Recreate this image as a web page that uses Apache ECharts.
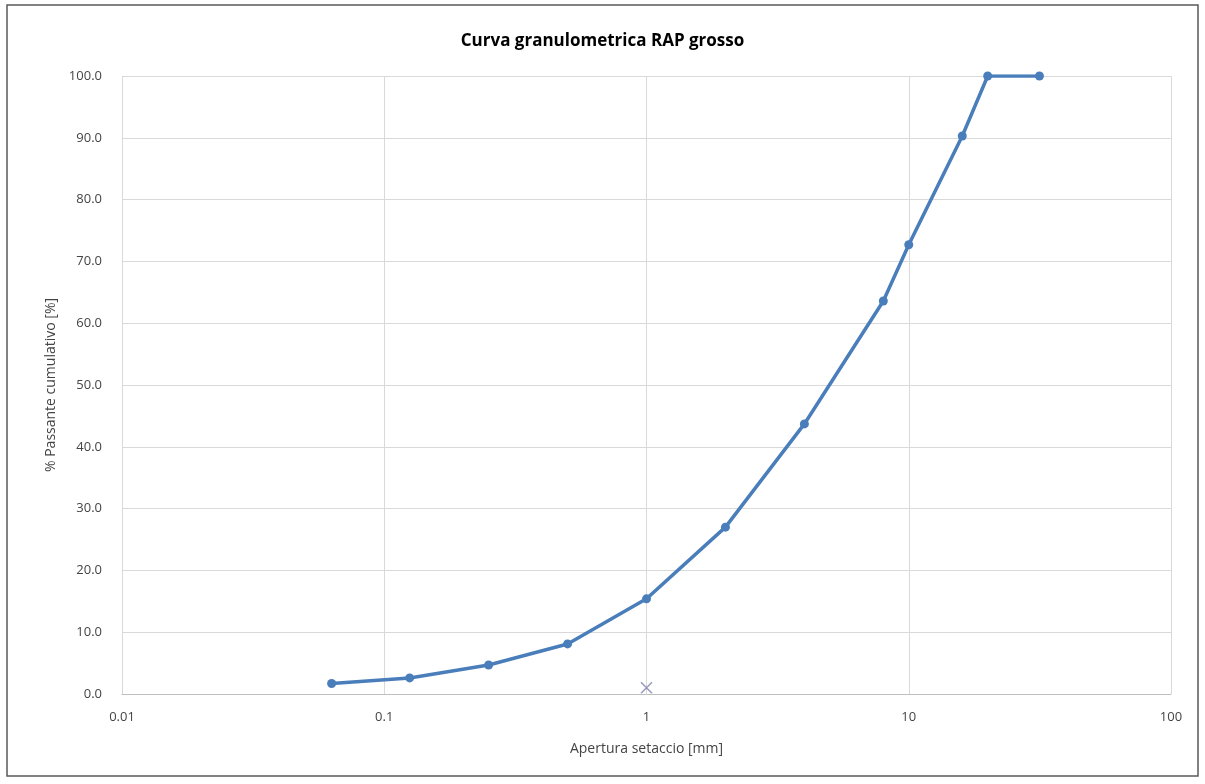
<!DOCTYPE html>
<html><head><meta charset="utf-8">
<script src="https://cdn.jsdelivr.net/npm/echarts@6/dist/echarts.min.js"></script>
<style>html,body{margin:0;padding:0;background:#fff}#c{width:1205px;height:784px}</style>
</head><body><div id="c"></div>
<script>
const sieveSizes = [0.063, 0.125, 0.25, 0.5, 1, 2, 4, 8, 10, 16, 20, 31.5];
const passing = [1.7, 2.6, 4.7, 8.1, 15.4, 27.0, 43.7, 63.6, 72.7, 90.3, 100.0, 100.0];
const markerX = [1];
const markerY = [1.0];
const titleText = 'Curva granulometrica RAP grosso';
const xName = 'Apertura setaccio [mm]';
const yName = '% Passante cumulativo [%]';

const chart = echarts.init(document.getElementById('c'));
chart.setOption({
  animation: false,
  backgroundColor: '#fff',
  graphic: [{type:'rect', shape:{x:7,y:5,width:1191,height:771}, style:{fill:'none', stroke:'#5a5a5a', lineWidth:1.5}, silent:true}],
  title: {text: titleText, left: 'center', top: 28, textStyle:{fontFamily:'Open Sans', fontWeight:'bold', fontSize:17, color:'#000'}},
  grid: {left:122, right:34, top:76, bottom:90},
  xAxis: {type:'log', logBase:10, min:0.01, max:100,
    name:xName, nameLocation:'middle', nameGap:48,
    nameTextStyle:{fontFamily:'Open Sans', fontSize:14, color:'#444'},
    axisLine:{show:true, lineStyle:{color:'#bfbfbf'}}, axisTick:{show:false},
    axisLabel:{fontFamily:'Open Sans', fontSize:13, color:'#444', margin:17, formatter:v=>String(+v.toPrecision(3))},
    splitLine:{show:true, lineStyle:{color:'#d9d9d9'}}, minorTick:{show:false}},
  yAxis: {type:'value', min:0, max:100, interval:10,
    name:yName, nameLocation:'middle', nameGap:62,
    nameTextStyle:{fontFamily:'Open Sans', fontSize:14, color:'#444'},
    axisLine:{show:false}, axisTick:{show:false},
    axisLabel:{fontFamily:'Open Sans', fontSize:13, color:'#444', margin:20, formatter:v=>v.toFixed(1)},
    splitLine:{show:true, lineStyle:{color:'#d9d9d9'}}},
  series: [
    {type:'line', data: sieveSizes.map((x,i)=>[x, passing[i]]), symbol:'circle', symbolSize:9,
      lineStyle:{color:'#4a7ebb', width:3.5}, itemStyle:{color:'#4a7ebb'}},
    {type:'scatter', data: markerX.map((x,i)=>[x, markerY[i]]), symbol:'path://M0,0L10,10M10,0L0,10', symbolSize:11,
      itemStyle:{color:'none', borderColor:'#7f7fae', borderWidth:1.5}}
  ]
});
</script></body></html>
